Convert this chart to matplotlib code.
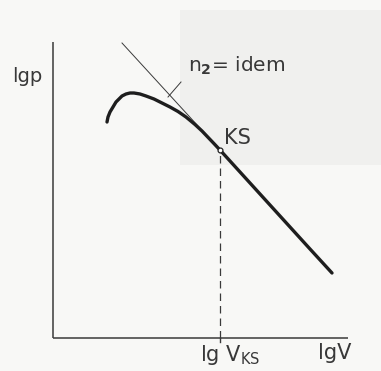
import matplotlib.pyplot as plt
from matplotlib.patches import Rectangle

# Kennlinie lg p über lg V (Koordinaten in Zeichnungseinheiten)
kurve_x = [107, 108, 110, 113, 116, 119, 122, 126, 130, 134, 140, 146, 154, 162, 170, 178, 186,
           195, 202, 208, 214, 220, 250, 280, 310, 332]
kurve_y = [249, 254, 259, 264, 269, 272, 275, 277, 278, 278, 277, 275, 272, 268, 264, 259.5, 254,
           246.5, 240, 233.7, 227.4, 221, 188, 155, 122, 98]

# Tangente n2 = idem durch den Punkt KS
tangente_x = [122, 220]
tangente_y = [328, 221]

ks_x, ks_y = 220, 221

fig = plt.figure(figsize=(3.81, 3.71), dpi=100)
fig.patch.set_facecolor('#f8f8f6')

# ganze Zeichenfläche als Koordinatensystem
ax = fig.add_axes([0, 0, 1, 1])
ax.set_xlim(0, 381)
ax.set_ylim(0, 371)
ax.axis('off')

# leicht grauer Bereich oben rechts
ax.add_patch(Rectangle((180, 206), 201, 155, color='#f0f0ee', zorder=0, lw=0))

# Achsen
ax.plot([53, 53], [33, 329], color='#3a3a3a', lw=1.1, solid_capstyle='butt')
ax.plot([53, 348], [33, 33], color='#3a3a3a', lw=1.1, solid_capstyle='butt')
ax.plot([ks_x, ks_x], [33, 29], color='#3a3a3a', lw=1.0)

ax.plot(tangente_x, tangente_y, color='#3a3a3a', lw=0.7)
ax.plot(kurve_x, kurve_y, color='#1e1e1e', lw=2.4, solid_capstyle='round', solid_joinstyle='round')
ax.plot([ks_x, ks_x], [33, ks_y], color='#3a3a3a', lw=0.9, ls=(0, (6, 4)))
ax.plot(ks_x, ks_y, 'o', ms=3.5, mfc='white', mec='#222222', mew=0.9)

# Beschriftungen
fnt = dict(family='DejaVu Sans', color='#383838')
ax.text(12, 294, 'lgp', fontsize=14, va='center', ha='left', **fnt)
ax.text(188, 305, 'n$_{\\mathbf{2}}$= idem', fontsize=14.5, va='center', ha='left', **fnt)
ax.plot([168, 181], [274, 289], color='#3a3a3a', lw=0.7)
ax.text(224, 233, 'KS', fontsize=15, va='center', ha='left', **fnt)
ax.text(200, 16, 'lg V$_{\\mathrm{KS}}$', fontsize=15, va='center', ha='left', **fnt)
ax.text(318, 18, 'lgV', fontsize=15, va='center', ha='left', **fnt)

fig.savefig('out.png', dpi=100, facecolor=fig.get_facecolor())
